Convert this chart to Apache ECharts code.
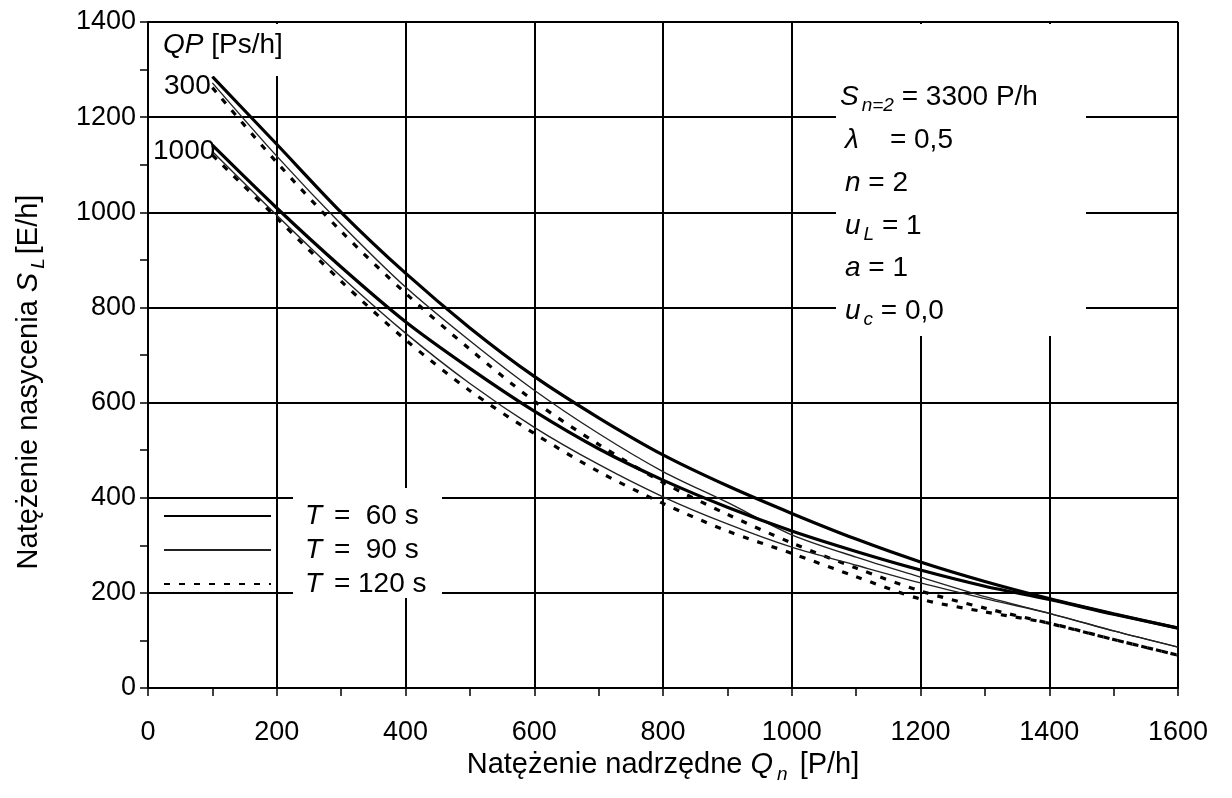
<!DOCTYPE html>
<html>
<head>
<meta charset="utf-8">
<script src="https://cdn.jsdelivr.net/npm/echarts@6/dist/echarts.min.js"></script>
<style>
html,body{margin:0;padding:0;background:#fff;}
#chart{width:1232px;height:798px;}
</style>
</head>
<body>
<div id="chart"></div>
<script>
// Data
const xValues = [100,200,300,400,500,600,700,800,900,1000,1100,1200,1300,1400,1500,1600];
const qp300_T60  = [1285,1143,1000,872,757,655,568,490,425,367,313,265,224,188,156,126];
const qp300_T90  = [1272,1118,975,843,730,626,535,455,390,322,275,233,192,157,120,86];
const qp300_T120 = [1262,1105,960,830,712,603,512,432,365,305,252,204,168,136,102,69];
const qp1000_T60  = [1141,1009,885,770,672,582,503,437,380,330,287,248,214,186,155,126];
const qp1000_T90  = [1128,994,865,746,640,548,470,402,345,296,258,221,188,157,120,86];
const qp1000_T120 = [1120,988,855,732,625,535,455,388,330,283,234,187,160,136,102,69];
const legendNames = ['T =  60 s','T =  90 s','T = 120 s'];

const FONT = 'Liberation Sans, Arial, sans-serif';
const FS = 27;
const FT = 29;
const pair = (ys) => xValues.map((x,i)=>[x, ys[i]]);

const styles = {
  'T =  60 s': {color:'#000', width:3.2, type:'solid'},
  'T =  90 s': {color:'#222', width:1.4, type:'solid'},
  'T = 120 s': {color:'#000', width:3.2, type:[6,9]}
};
function mk(name, ys, z){
  return {
    name: name, type:'line', data: pair(ys), smooth:0.3, symbol:'none',
    lineStyle: styles[name], itemStyle:{color:'#000'}, z: z, animation:false
  };
}

const chart = echarts.init(document.getElementById('chart'), null, {renderer:'canvas'});
const sub = {fontFamily:FONT, fontStyle:'italic', fontSize:19, verticalAlign:'bottom', lineHeight:36, padding:[14,0,0,3], color:'#000'};
const txt = {fontFamily:FONT, fontSize:28, color:'#000', lineHeight:36};
const it = {fontFamily:FONT, fontSize:28, fontStyle:'italic', color:'#000', lineHeight:36};
const axisNameRich = {
  n:{fontFamily:FONT, fontSize:FT, color:'#000', lineHeight:38},
  i:{fontFamily:FONT, fontSize:FT, fontStyle:'italic', color:'#000', lineHeight:38},
  s:{fontFamily:FONT, fontSize:19, fontStyle:'italic', color:'#000', lineHeight:38, verticalAlign:'bottom', padding:[14,4,0,4]},
  e:{fontFamily:FONT, fontSize:FT, color:'#000', lineHeight:38, padding:[0,54,0,0]}
};
function t(x, y, text){
  return {type:'text', x:x, y:y, z:10, style:{rich:{i:it,t:txt,s:sub}, text:text, verticalAlign:'middle', align:'left'}};
}

chart.setOption({
  animation:false,
  backgroundColor:'#fff',
  grid:{left:148, right:54, top:22, bottom:110, containLabel:false},
  xAxis:{
    type:'value', min:0, max:1600, interval:200,
    name:'{n|Natężenie nadrzędne }{i|Q}{s|n}{n| [P/h]}',
    nameLocation:'middle', nameGap:34,
    nameTextStyle:{rich:axisNameRich},
    axisLine:{show:true, lineStyle:{color:'#000', width:2}},
    axisTick:{show:true, inside:false, length:8, lineStyle:{color:'#000', width:1.5}},
    minorTick:{show:true, splitNumber:2, length:8, lineStyle:{color:'#000', width:1.5}},
    splitLine:{show:true, lineStyle:{color:'#000', width:2}},
    axisLabel:{fontFamily:FONT, fontSize:FS, color:'#000', margin:31, formatter:(v)=>String(v)}
  },
  yAxis:{
    type:'value', min:0, max:1400, interval:200,
    name:'{n|Natężenie nasycenia }{i|S}{s|L}{e|[E/h]}',
    nameLocation:'middle', nameGap:100, nameRotate:90,
    nameTextStyle:{rich:axisNameRich},
    axisLine:{show:true, lineStyle:{color:'#000', width:2}},
    axisTick:{show:true, inside:false, length:8, lineStyle:{color:'#000', width:1.5}},
    minorTick:{show:true, splitNumber:2, length:8, lineStyle:{color:'#000', width:1.5}},
    splitLine:{show:true, lineStyle:{color:'#000', width:2}},
    axisLabel:{fontFamily:FONT, fontSize:FS, color:'#000', margin:12, formatter:(v)=>String(v)}
  },
  legend:{
    show:true, orient:'vertical', left:158, top:494, z:6,
    data: legendNames,
    itemWidth:107, itemHeight:14, itemGap:0,
    itemStyle:{opacity:0, color:'transparent', borderWidth:0},
    formatter: function(name){
      return '{sp|}{i|T}{r|' + name.slice(1) + '}';
    },
    textStyle:{rich:{
      sp:{width:17, height:34, lineHeight:34},
      i:{fontFamily:FONT, fontSize:28, fontStyle:'italic', color:'#000', height:34, lineHeight:34, padding:[0,4,0,12]},
      r:{fontFamily:FONT, fontSize:28, color:'#000', height:34, lineHeight:34}
    }}
  },
  graphic:[
    {type:'rect', x:150, y:24, shape:{width:142, height:52}, style:{fill:'#fff'}, z:5},
    {type:'rect', x:836, y:24, shape:{width:250, height:312}, style:{fill:'#fff'}, z:5},
    {type:'rect', x:293, y:488, shape:{width:149, height:110}, style:{fill:'#fff'}, z:5},
    t(163, 45, '{i|QP}{t| [Ps/h]}'),
    t(164, 86, '{t|300}'),
    t(153, 151, '{t|1000}'),
    t(840, 97, '{i|S}{s|n=2}{t| = 3300 P/h}'),
    t(845, 140, '{i|λ}{t|    = 0,5}'),
    t(845, 183, '{i|n}{t| = 2}'),
    t(845, 226, '{i|u}{s|L}{t| = 1}'),
    t(845, 268, '{i|a}{t| = 1}'),
    t(845, 311, '{i|u}{s|c}{t| = 0,0}')
  ],
  series:[
    mk('T =  60 s', qp300_T60, 4),
    mk('T =  90 s', qp300_T90, 3),
    mk('T = 120 s', qp300_T120, 2),
    mk('T =  60 s', qp1000_T60, 4),
    mk('T =  90 s', qp1000_T90, 3),
    mk('T = 120 s', qp1000_T120, 2)
  ]
});
</script>
</body>
</html>
